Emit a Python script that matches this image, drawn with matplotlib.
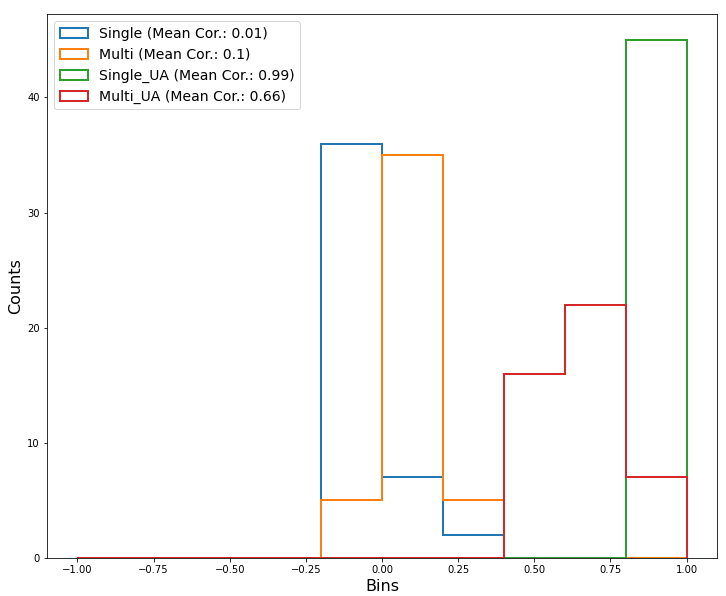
import numpy as np
import matplotlib
matplotlib.use("Agg")
import matplotlib.pyplot as plt

bins = [-1.0, -0.8, -0.6, -0.4, -0.2, 0.0, 0.2, 0.4, 0.6, 0.8, 1.0]
labels = ["Single (Mean Cor.: 0.01)", "Multi (Mean Cor.: 0.1)",
          "Single_UA (Mean Cor.: 0.99)", "Multi_UA (Mean Cor.: 0.66)"]
single = [0, 0, 0, 0, 36, 7, 2, 0, 0, 0]
multi = [0, 0, 0, 0, 5, 35, 5, 0, 0, 0]
single_ua = [0, 0, 0, 0, 0, 0, 0, 0, 0, 45]
multi_ua = [0, 0, 0, 0, 0, 0, 0, 16, 22, 7]
series = [single, multi, single_ua, multi_ua]
colors = ["#1f77b4", "#ff7f0e", "#2ca02c", "#d62728"]

fig = plt.figure(figsize=(726 / 72, 596 / 72), dpi=72)
ax = fig.add_axes([47 / 726, 38 / 596, 670 / 726, 544 / 596])
centers = [(bins[i] + bins[i + 1]) / 2 for i in range(len(bins) - 1)]
for vals, lab, c in zip(series, labels, colors):
    ax.hist(centers, bins=bins, weights=vals, histtype="step", linewidth=2,
            color=c, label=lab)
ax.set_xlabel("Bins", fontsize=16)
ax.set_ylabel("Counts", fontsize=16)
ax.legend(loc="upper left", fontsize=14)
fig.savefig("out.png", dpi=72)
